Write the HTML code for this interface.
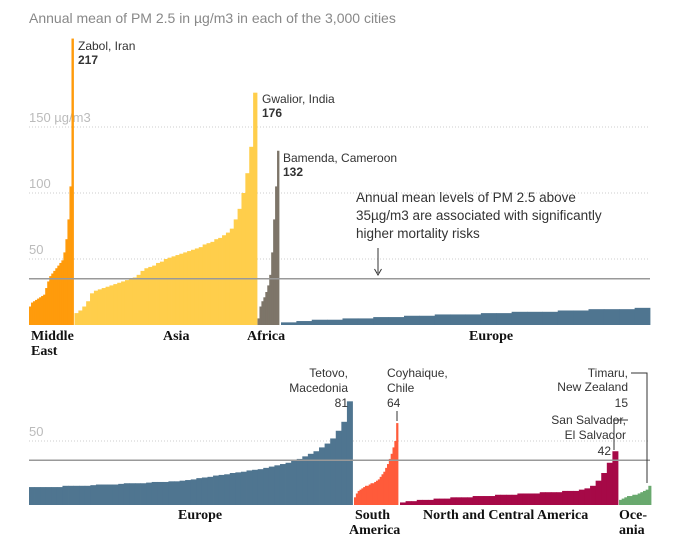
<!DOCTYPE html>
<html><head><meta charset="utf-8"><style>
html,body{margin:0;padding:0;background:#fff;}
svg{display:block;font-family:"Liberation Sans",sans-serif;}
.lab{font-size:12px;fill:#333;}
.reg{font-family:"Liberation Serif",serif;font-weight:bold;font-size:14px;fill:#111;}
</style></head><body>
<svg id="chart" width="680" height="548" viewBox="0 0 680 548">
<text x="29" y="23" font-size="14" fill="#888">Annual mean of PM 2.5 in µg/m3 in each of the 3,000 cities</text>
<g id="grid"></g>
<g id="bars"></g>
<g id="refs"></g>
<g>
<text class="lab" x="78" y="50">Zabol, Iran</text><text class="lab" x="78" y="64" font-weight="bold">217</text>
<text class="lab" x="262" y="103">Gwalior, India</text><text class="lab" x="262" y="117" font-weight="bold">176</text>
<text class="lab" x="283" y="162">Bamenda, Cameroon</text><text class="lab" x="283" y="176" font-weight="bold">132</text>
<text font-size="13.5" fill="#333"><tspan x="356" y="202">Annual mean levels of PM 2.5 above</tspan><tspan x="356" y="220">35µg/m3 are associated with significantly</tspan><tspan x="356" y="238">higher mortality risks</tspan></text>
<line x1="378" y1="248" x2="378" y2="273" stroke="#333" stroke-width="1"/>
<path d="M374.5 269 L378 275 L381.5 269" fill="none" stroke="#333" stroke-width="1"/>
<g text-anchor="end">
<text class="lab" x="348" y="377">Tetovo,</text><text class="lab" x="348" y="392">Macedonia</text><text class="lab" x="348" y="407">81</text>
<text class="lab" x="628" y="377">Timaru,</text><text class="lab" x="628" y="391">New Zealand</text><text class="lab" x="628" y="407">15</text>
<text class="lab" x="626" y="424">San Salvador,</text><text class="lab" x="626" y="439">El Salvador</text><text class="lab" x="611" y="455">42</text>
</g>
<text class="lab" x="387" y="377">Coyhaique,</text><text class="lab" x="387" y="392">Chile</text><text class="lab" x="387" y="407">64</text>
<path d="M397 411 V421" stroke="#333" fill="none"/>
<path d="M631 373 H647 V483" stroke="#333" fill="none"/>
<path d="M628 420 H614 V450" stroke="#333" fill="none"/>
</g>
<g>
<text class="reg" x="31" y="340">Middle</text><text class="reg" x="31" y="355">East</text>
<text class="reg" x="163" y="340">Asia</text>
<text class="reg" x="247" y="340">Africa</text>
<text class="reg" x="469" y="340">Europe</text>
<text class="reg" x="178" y="519">Europe</text>
<text class="reg" x="355" y="519">South</text><text class="reg" x="349" y="534">America</text>
<text class="reg" x="423" y="519">North and Central America</text>
<text class="reg" x="619" y="519">Oce-</text><text class="reg" x="619" y="534">ania</text>
</g>
</svg>
<script>
const middleEast=[14,17,18,19,20,21,22,23,28,33,37,39,41,43,45,47,49,55,65,80,105,217];
const asia=[9,11,14,18,24,26,27,28,29,30,31,32,33,34,35,36,38,41,43,44,45,47,48,50,51,52,53,54,55,56,57,58,59,61,62,63,65,66,68,70,73,80,88,100,115,135,176];
const africa=[5,14,18,21,25,30,38,55,80,105,132];
const europeTop=[2,3,4,4,5,5,6,6,7,7,8,8,8,9,9,10,10,10,11,11,12,12,12,13];
const europeBottom=[14,14,14,14,14,14,15,15,15,15,15,15.5,16,16,16,16,16.5,17,17,17,17,17.5,18,18,18,18.5,18.5,19,19.5,20,21,21.5,22,23,23.5,24,25,25.5,26,27,27.5,28,29,30,31,32,33,35,36,38,40,42,45,48,52,58,65,81];
const southAmerica=[6,9,11,12,13,14,15,15,16,17,17,18,19,20,22,24,26,29,32,36,40,45,50,64];
const northCentralAmerica=[2,3,3,4,4,4,5,5,5,6,6,6,6,7,7,7,7,8,8,8,8,9,9,9,9,10,10,10,10,11,11,11,12,13,15,19,25,33,42];
const oceania=[4,5,6,7,7,8,8,9,10,11,12,15];
const gridTicksTop=[50,100,150];
const gridLabelsTop=["50","100","150 µg/m3"];
const gridTicksBottom=[50];
const threshold=[35];

const NS="http://www.w3.org/2000/svg";
const yTop=v=>325-1.32*v;
const yBot=v=>505-1.28*v;
const bars=document.getElementById('bars');
const grid=document.getElementById('grid');
const refs=document.getElementById('refs');
function series(vals,x0,x1,yf,base,color,name){
  const g=document.createElementNS(NS,'g');
  
  
  const w=(x1-x0)/vals.length;
  vals.forEach((v,i)=>{
    const r=document.createElementNS(NS,'rect');
    
    
    const y=yf(v);
    r.setAttribute('x',x0+i*w);r.setAttribute('width',w+0.4);
    r.setAttribute('y',y);r.setAttribute('height',base-y);
    r.setAttribute('fill',color);
    g.appendChild(r);
  });
  bars.appendChild(g);
}
function hline(parent,y,x0,x1,stroke,dash,sw,name){
  const l=document.createElementNS(NS,'line');
  
  
  l.setAttribute('x1',x0);l.setAttribute('x2',x1);l.setAttribute('y1',y);l.setAttribute('y2',y);
  l.setAttribute('stroke',stroke);l.setAttribute('stroke-width',sw);
  if(dash)l.setAttribute('stroke-dasharray',dash);
  parent.appendChild(l);
}
gridTicksTop.forEach((t,i)=>{
  hline(grid,yTop(t),29,650,'#ccc','1,2',1,'gridline-top');
  const tx=document.createElementNS(NS,'text');
  
  
  tx.setAttribute('x',29);tx.setAttribute('y',yTop(t)-5);
  tx.setAttribute('font-size','13');tx.setAttribute('fill','#bbb');
  tx.textContent=gridLabelsTop[i];grid.appendChild(tx);
});
gridTicksBottom.forEach(t=>{
  hline(grid,yBot(t),29,650,'#ccc','1,2',1,'gridline-bottom');
  const tx=document.createElementNS(NS,'text');
  
  
  tx.setAttribute('x',29);tx.setAttribute('y',yBot(t)-5);
  tx.setAttribute('font-size','13');tx.setAttribute('fill','#bbb');
  tx.textContent=String(t);grid.appendChild(tx);
});
series(middleEast,29,73.5,yTop,325,'#ff9b0b','middle-east-series');
series(asia,74.5,257,yTop,325,'#ffce4b','asia-series');
series(africa,257.5,279,yTop,325,'#7d7569','africa-series');
series(europeTop,281,650,yTop,325,'#4f7590','europe-top-series');
series(europeBottom,29,352.5,yBot,505,'#4f7590','europe-bottom-series');
series(southAmerica,354,398,yBot,505,'#ff5b3a','south-america-series');
series(northCentralAmerica,400,618,yBot,505,'#a60947','north-central-america-series');
series(oceania,619,651,yBot,505,'#69a96e','oceania-series');
hline(refs,yTop(threshold[0]),29,650,'#999',null,1.5,'threshold-line-top');
hline(refs,yBot(threshold[0]),29,650,'#999',null,1.5,'threshold-line-bottom');
</script>
</body></html>
